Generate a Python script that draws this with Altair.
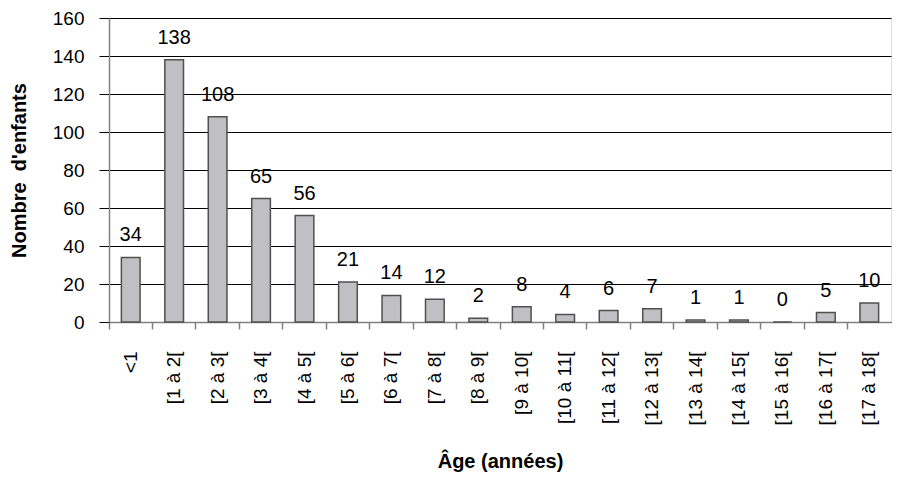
import altair as alt
import pandas as pd

categories = ["<1", "[1 à 2[", "[2 à 3[", "[3 à 4[", "[4 à 5[", "[5 à 6[", "[6 à 7[",
              "[7 à 8[", "[8 à 9[", "[9 à 10[", "[10 à 11[", "[11 à 12[", "[12 à 13[",
              "[13 à 14[", "[14 à 15[", "[15 à 16[", "[16 à 17[", "[17 à 18["]
counts = [34, 138, 108, 65, 56, 21, 14, 12, 2, 8, 4, 6, 7, 1, 1, 0, 5, 10]
y_ticks = [0, 20, 40, 60, 80, 100, 120, 140, 160]

df = pd.DataFrame({"age": categories, "n": counts})

FONT = "Liberation Sans"

x_enc = alt.X(
    "age:N",
    sort=categories,
    scale=alt.Scale(paddingInner=0, paddingOuter=0),
    axis=alt.Axis(
        title="Âge (années)",
        labelAngle=-90,
        labelFont=FONT,
        labelFontSize=19,
        labelColor="#000000",
        labelPadding=22,
        tickSize=7,
        tickColor="#808080",
        tickWidth=1.5,
        domainColor="#808080",
        domainWidth=1.5,
        bandPosition=0,
        titleFont=FONT,
        titleFontSize=20,
        titleFontWeight="bold",
        titleColor="#000000",
        titlePadding=27,
        grid=False,
    ),
)

y_enc = alt.Y(
    "n:Q",
    scale=alt.Scale(domain=[0, 160], nice=False),
    axis=alt.Axis(
        title="Nombre\u00a0 d'enfants",
        values=y_ticks,
        labelOverlap=False,
        labelFont=FONT,
        labelFontSize=19,
        labelColor="#000000",
        labelPadding=15,
        tickSize=10,
        tickColor="#000000",
        domainColor="#808080",
        domainWidth=1.5,
        grid=True,
        gridColor="#000000",
        gridWidth=1,
        titleFont=FONT,
        titleFontSize=20,
        titleFontWeight="bold",
        titleColor="#000000",
        titlePadding=23,
    ),
)

base = alt.Chart(df).encode(x=x_enc, y=y_enc)

bars = base.mark_bar(
    width=alt.RelativeBandSize(0.43),
    fill="#c0c0c4",
    stroke="#505050",
    strokeWidth=1.5,
)

labels = base.mark_text(
    font=FONT,
    fontSize=20,
    dy=-16,
    baseline="alphabetic",
    color="#000000",
).encode(text="n:Q")

chart = (
    alt.layer(bars, labels)
    .properties(
        width=782,
        height=304,
        autosize=alt.AutoSizeParams(type="none"),
        padding={"left": 101, "top": 10, "right": 1, "bottom": 153},
    )
    .configure_view(stroke=None)
    .configure(background="white")
)

chart.save("out.html", embed_options={"renderer": "svg", "actions": False})
